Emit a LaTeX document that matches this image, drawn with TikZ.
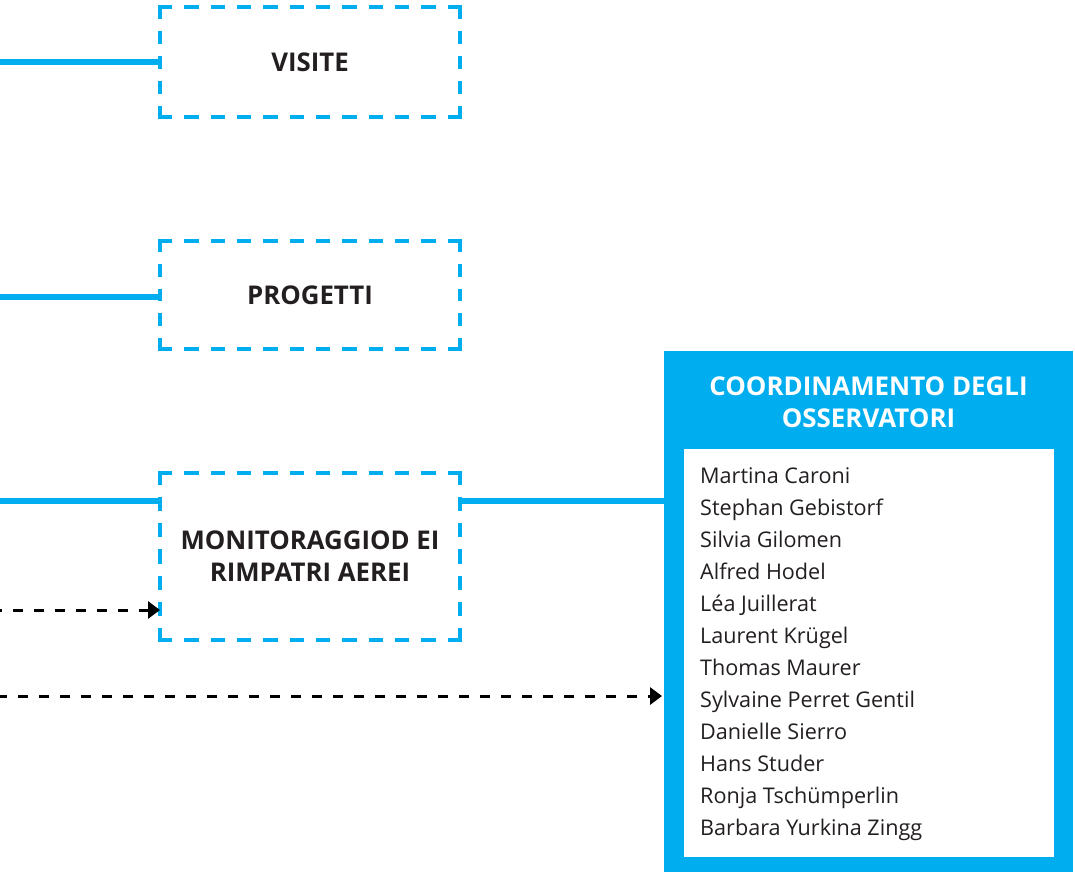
\documentclass[tikz,border=0pt]{standalone}
\usepackage{fontspec}
\setmainfont{Open Sans}
\usetikzlibrary{arrows.meta}
\definecolor{cy}{HTML}{00AEEF}
\definecolor{ink}{HTML}{231F20}
\newcommand\dashrect[3]{%
  \draw[bluedash, dash pattern=on #2pt off 12pt] (#1.north west) -- (#1.north east);
  \draw[bluedash, dash pattern=on #2pt off 12pt] (#1.south west) -- (#1.south east);
  \draw[bluedash, dash pattern=on #3pt off 12pt] (#1.north west) -- (#1.south west);
  \draw[bluedash, dash pattern=on #3pt off 12pt] (#1.north east) -- (#1.south east);
}
\begin{document}
\begin{tikzpicture}[x=1pt,y=-1pt,
  boxtext/.style={inner sep=0pt, outer sep=0pt, minimum width=300pt, align=center,
    font=\fontsize{25.8}{32}\selectfont\bfseries, text=ink},
  bluedash/.style={draw=cy, line width=4pt, shorten <=-2pt, shorten >=-2pt},
  blueline/.style={draw=cy, line width=6pt},
  blackarrow/.style={draw=black, line width=3pt, dash pattern=on 10pt off 11pt,
    -{Triangle[length=12pt,width=17pt]}},
  namestyle/.style={anchor=base west, inner sep=0pt, font=\fontsize{21.6}{32}\selectfont, text=ink},
  headstyle/.style={inner sep=0pt, align=center, text=white, font=\fontsize{25.9}{32}\selectfont\bfseries}]
\useasboundingbox (0,0) rectangle (1075,872);

% boxes
\node[boxtext, minimum height=110pt] (visite) at (310,62.5) {VISITE};
\node[boxtext, minimum height=108pt] (progetti) at (310,295) {PROGETTI};
\node[boxtext, minimum height=167pt] (monitor) at (310,556.5) {MONITORAGGIOD EI\\RIMPATRI AEREI};
\dashrect{visite}{14.33}{13.2}
\dashrect{progetti}{14.33}{12.8}
\dashrect{monitor}{14.33}{14.14}

% coordination box
\node[fill=cy, inner sep=0pt, outer sep=0pt, minimum width=409pt, minimum height=521pt] (coord) at (868.5,611.5) {};
\node[fill=white, inner sep=0pt, outer sep=0pt, minimum width=370pt, minimum height=408pt] (inner) at (869,653) {};
\node[headstyle] (head) at (868.5,401.8) {COORDINAMENTO DEGLI\\OSSERVATORI};
\foreach \n [count=\i from 0] in {Martina Caroni, Stephan Gebistorf, Silvia Gilomen, Alfred Hodel,
  Léa Juillerat, Laurent Krügel, Thomas Maurer, Sylvaine Perret Gentil, Danielle Sierro,
  Hans Studer, Ronja Tschümperlin, Barbara Yurkina Zingg}
  \node[namestyle] (name\i) at (700,{483+32*\i}) {\n};

% connectors
\coordinate (l1) at (0,62.5);
\coordinate (l2) at (0,296.5);
\coordinate (l3) at (0,501);
\coordinate (l4) at (0,610);
\coordinate (l5) at (0,696);
\draw[blueline] (l1) -- (visite.west);
\draw[blueline] (l2) -- (progetti.west |- l2);
\draw[blueline] (l3) -- (monitor.west |- l3);
\draw[blueline] (monitor.east |- l3) -- (coord.west |- l3);
\draw[blackarrow, dash phase=8pt] (l4) -- (monitor.west |- l4);
\draw[blackarrow, dash phase=3pt, shorten >=2pt] (l5) -- (coord.west |- l5);
\end{tikzpicture}
\end{document}
